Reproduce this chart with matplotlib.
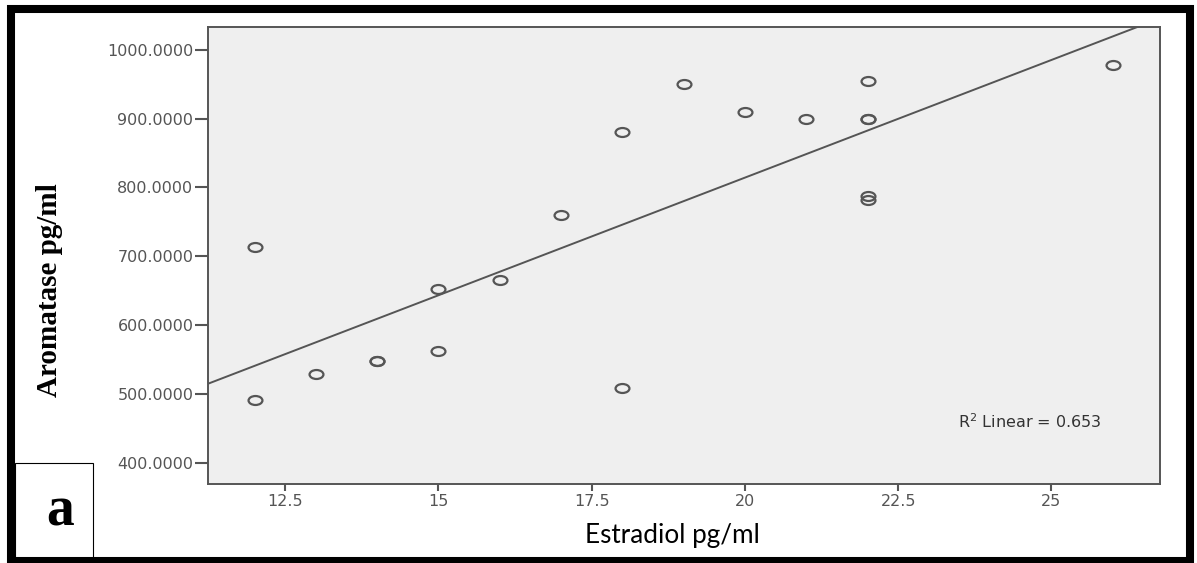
import numpy as np
import matplotlib
matplotlib.use("Agg")
import matplotlib.pyplot as plt
from matplotlib.path import Path
from matplotlib.patches import Rectangle

# ---- data ----
estradiol = [12, 12, 13, 14, 14, 15, 15, 16, 17, 18, 18, 19, 20, 21, 22, 22, 22, 22, 22, 26]
aromatase = [713, 491, 529, 548, 548, 652, 562, 665, 760, 880, 508, 950, 909, 900, 954, 900, 900, 787, 782, 978]
x_ticks = [12.5, 15, 17.5, 20, 22.5, 25]
x_tick_labels = ["12.5", "15", "17.5", "20", "22.5", "25"]
y_ticks = [400, 500, 600, 700, 800, 900, 1000]
y_tick_labels = ["400.0000", "500.0000", "600.0000", "700.0000", "800.0000", "900.0000", "1000.0000"]
r2_text = "R$^2$ Linear = 0.653"

W, H = 1197, 563
fig = plt.figure(figsize=(W / 100, H / 100), dpi=100)
fig.patch.set_facecolor("white")

ax = fig.add_axes([208 / W, 1 - 484 / H, (1160 - 208) / W, (484 - 27) / H])
ax.set_facecolor("#efefef")

grey = "#555555"
# elliptical open-circle marker
circ = Path.unit_circle()
ellipse = Path(circ.vertices * np.array([1.55, 1.0]), circ.codes)

ax.plot(estradiol, aromatase, linestyle="none", marker=ellipse, markersize=10,
        markerfacecolor="none", markeredgecolor=grey, markeredgewidth=1.6, zorder=3)

xlim = (11.24, 26.77)
ylim = (369, 1033)
ax.set_xlim(*xlim)
ax.set_ylim(*ylim)

# linear fit
coef = np.polyfit(estradiol, aromatase, 1)
xs = np.array(xlim)
ax.plot(xs, np.polyval(coef, xs), color=grey, linewidth=1.4, zorder=2)

ax.set_xticks(x_ticks)
ax.set_xticklabels(x_tick_labels)
ax.set_yticks(y_ticks)
ax.set_yticklabels(y_tick_labels)
ax.tick_params(axis="y", direction="out", length=9.5, width=1.5, color=grey,
               labelcolor=grey, labelsize=11.5, pad=1)
ax.tick_params(axis="x", direction="out", length=5, width=1.5, color=grey,
               labelcolor=grey, labelsize=11.5, pad=2)
for lab in ax.get_xticklabels() + ax.get_yticklabels():
    lab.set_fontfamily("DejaVu Sans")
for s in ax.spines.values():
    s.set_color(grey)
    s.set_linewidth(1.4)

fig.text(1030 / W, 1 - 422 / H, r2_text, ha="center", va="center",
         fontsize=11.5, color="#333333", family="DejaVu Sans")

# axis titles
fig.text(50 / W, 1 - 290 / H, "Aromatase pg/ml", rotation=90, ha="center", va="center",
         fontsize=21, fontweight="bold", family="Liberation Serif", color="black")
fig.text(672 / W, 1 - 536 / H, "Estradiol pg/ml", ha="center", va="center",
         fontsize=18.8, family="Lato", color="black")

# outer frame
fig.patches.append(Rectangle((11 / W, 1 - 561 / H), (1190 - 11) / W, (561 - 9) / H,
                             transform=fig.transFigure, fill=False,
                             edgecolor="black", linewidth=5.8, zorder=10))
# panel label box
fig.patches.append(Rectangle((15 / W, 1 - 558 / H), (93 - 15) / W, (558 - 463) / H,
                             transform=fig.transFigure, fill=True, facecolor="white",
                             edgecolor="black", linewidth=0.8, zorder=5))
fig.text(60 / W, 1 - 512 / H, "a", ha="center", va="center", fontsize=40,
         fontweight="bold", family="Liberation Serif", color="black", zorder=6)

fig.savefig("out.png", dpi=100)
